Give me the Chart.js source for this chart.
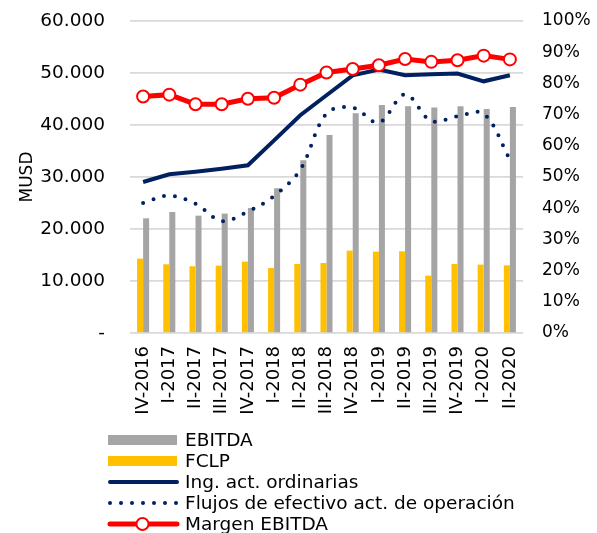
<!DOCTYPE html>
<html>
<head>
<meta charset="utf-8">
<script src="https://cdn.jsdelivr.net/npm/chart.js@4"></script>
<style>
  body { margin: 0; background: #fff; }
  #wrap { width: 597px; height: 533px; }
</style>
</head>
<body>
<div id="wrap"><canvas id="myChart" width="597" height="533"></canvas></div>
<script>
const categories = ['IV-2016', 'I-2017', 'II-2017', 'III-2017', 'IV-2017', 'I-2018', 'II-2018', 'III-2018',
    'IV-2018', 'I-2019', 'II-2019', 'III-2019', 'IV-2019', 'I-2020', 'II-2020'];
const ebitda = [22050, 23270, 22570, 22960, 24040, 27830, 33210, 38080, 42250, 43850, 43600, 43350, 43600, 43080, 43460];
const fclp = [14300, 13210, 12830, 12960, 13730, 12500, 13270, 13460, 15840, 15650, 15710, 11030, 13270, 13150, 13020];
const ingresos = [29040, 30520, 31000, 31580, 32250, 37040, 41870, 45720, 49560, 50650, 49560, 49750, 49880, 48400, 49560];
const flujos = [25000, 26420, 24880, 21540, 23350, 26350, 31420, 42190, 43340, 40460, 45900, 40770, 41670, 42190, 33350];
const margen = [75.8, 76.4, 73.3, 73.3, 75.1, 75.4, 79.6, 83.5, 84.6, 85.8, 87.8, 86.9, 87.4, 88.9, 87.7];

const FONT = 'DejaVu Sans';
const GRAY = '#A5A5A5', GOLD = '#FFC000', NAVY = '#002060', RED = '#FF0000';

// legend drawn by hand: one item per row, like the original
const rowLegend = {
    id: 'rowLegend',
    afterDraw(chart) {
        const c = chart.ctx;
        const x0 = 108, x1 = 177, tx = 185;
        let y = 440;
        c.save();
        c.font = '18.5px "' + FONT + '"';
        c.textBaseline = 'middle';
        chart.data.datasets.forEach(ds => {
            if (ds.type === 'bar') {
                c.fillStyle = ds.backgroundColor;
                c.fillRect(x0, y - 5, x1 - x0, 10);
            } else {
                c.strokeStyle = ds.borderColor;
                c.lineWidth = ds.borderWidth;
                c.lineCap = 'round';
                c.setLineDash(ds.borderDash || []);
                c.beginPath();
                c.moveTo(x0 + 2, y);
                c.lineTo(x1, y);
                c.stroke();
                c.setLineDash([]);
                if (ds.pointRadius) {
                    c.beginPath();
                    c.arc((x0 + x1) / 2, y, ds.pointRadius, 0, Math.PI * 2);
                    c.fillStyle = ds.pointBackgroundColor;
                    c.fill();
                    c.lineWidth = ds.pointBorderWidth;
                    c.strokeStyle = ds.pointBorderColor;
                    c.stroke();
                }
            }
            c.fillStyle = '#000';
            c.fillText(ds.label, tx, y + 1);
            y += 21;
        });
        c.restore();
    }
};

// fixed side widths, and no extra room for the end labels
const fixWidth = w => s => { s.width = w; s.paddingTop = 0; s.paddingBottom = 0; };

new Chart(document.getElementById('myChart'), {
    data: {
        labels: categories,
        datasets: [
            { type: 'bar', label: 'EBITDA', data: ebitda, backgroundColor: GRAY, yAxisID: 'y', order: 5,
              categoryPercentage: 0.46, barPercentage: 1 },
            { type: 'bar', label: 'FCLP', data: fclp, backgroundColor: GOLD, yAxisID: 'y', order: 4,
              categoryPercentage: 0.46, barPercentage: 1 },
            { type: 'line', label: 'Ing. act. ordinarias', data: ingresos, borderColor: NAVY, borderWidth: 4,
              pointRadius: 0, yAxisID: 'y', order: 2, tension: 0 },
            { type: 'line', label: 'Flujos de efectivo act. de operación', data: flujos, borderColor: NAVY,
              borderWidth: 4, borderDash: [0, 11], borderCapStyle: 'round', pointRadius: 0, yAxisID: 'y',
              order: 3, tension: 0.35 },
            { type: 'line', label: 'Margen EBITDA', data: margen, borderColor: RED, borderWidth: 5,
              pointRadius: 6, pointBackgroundColor: '#fff', pointBorderColor: RED, pointBorderWidth: 2,
              pointHoverRadius: 6, yAxisID: 'y1', order: 1, tension: 0 }
        ]
    },
    options: {
        responsive: false,
        animation: false,
        devicePixelRatio: 1,
        layout: { padding: { top: 21, bottom: 103, left: 0, right: 0 } },
        plugins: { legend: { display: false }, tooltip: { enabled: false } },
        scales: {
            x: {
                offset: true,
                grid: { display: false, drawTicks: false },
                border: { display: false },
                ticks: { color: '#000', font: { family: FONT, size: 18 }, minRotation: 90, maxRotation: 90,
                         padding: 13, autoSkip: false },
                afterFit: s => { s.height = 97; s.paddingLeft = 0; s.paddingRight = 0; }
            },
            y: {
                position: 'left',
                min: 0, max: 60000,
                grid: { color: '#D9D9D9', lineWidth: 1.7, drawTicks: false },
                border: { display: false },
                title: { display: true, text: 'MUSD', color: '#000', font: { family: FONT, size: 17 },
                         padding: { top: 17, bottom: 0 } },
                ticks: { stepSize: 10000, color: '#000', font: { family: FONT, size: 18.5 }, padding: 25,
                         callback: v => v === 0 ? '-' : v.toLocaleString('de-DE') },
                afterFit: fixWidth(130)
            },
            y1: {
                position: 'right',
                min: 0, max: 100,
                grid: { display: false, drawTicks: false },
                border: { display: false },
                ticks: { stepSize: 10, color: '#000', font: { family: FONT, size: 17 }, padding: 19,
                         callback: v => v + '%' },
                afterFit: fixWidth(74)
            }
        }
    },
    plugins: [rowLegend]
});
</script>
</body>
</html>
